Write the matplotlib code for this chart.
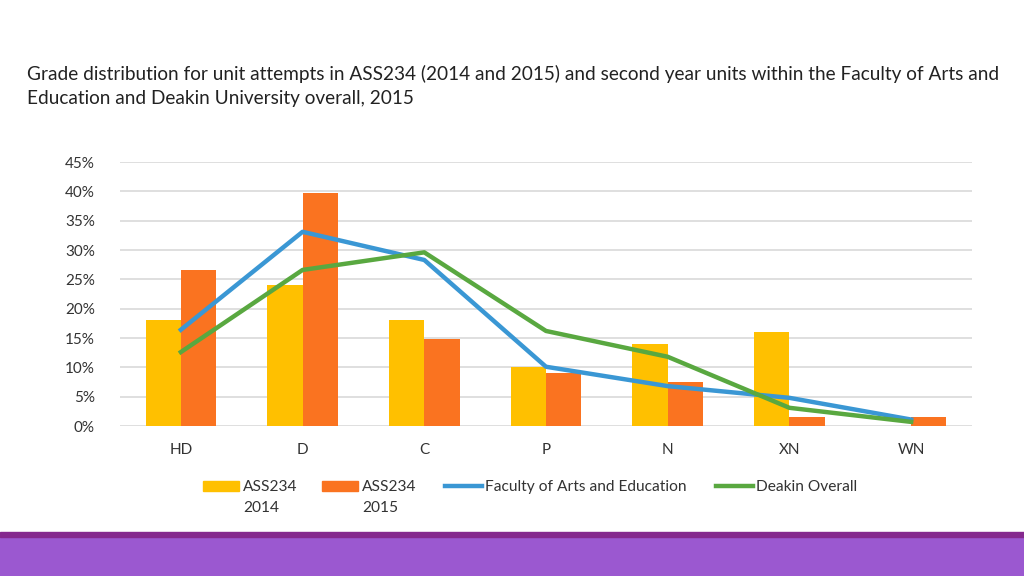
import matplotlib
matplotlib.use("Agg")
import matplotlib.pyplot as plt
from matplotlib.patches import Rectangle
from matplotlib.lines import Line2D
from matplotlib.ticker import PercentFormatter
import numpy as np

# grades and values (percent)
grades = ["HD", "D", "C", "P", "N", "XN", "WN"]
ass234_2014 = [18, 24, 18, 10, 14, 16, 0]
ass234_2015 = [26.6, 39.8, 14.8, 9.0, 7.5, 1.5, 1.5]
faculty = [16.4, 33.1, 28.3, 10.1, 6.8, 4.8, 1.1]
deakin = [12.6, 26.6, 29.6, 16.2, 11.8, 3.1, 0.7]
yticks = list(range(0, 50, 5))

title = ("Grade distribution for unit attempts in ASS234 (2014 and 2015) and second year units within the Faculty of Arts and\n"
         "Education and Deakin University overall, 2015")

plt.rcParams['font.family'] = ['Lato', 'DejaVu Sans']

W, H = 1024, 576
fig = plt.figure(figsize=(10.24, 5.76), dpi=100)
fig.patch.set_facecolor("white")

def fx(px):
    return px / W

def fy(py):
    return 1 - py / H

# purple footer band
fig.add_artist(Rectangle((0, 0), 1, 39 / H, transform=fig.transFigure, color="#9B58D0", zorder=0))
fig.add_artist(Rectangle((0, 39 / H), 1, 5 / H, transform=fig.transFigure, color="#85288E", zorder=0))

fig.text(fx(27), fy(86), title, fontsize=13.7, color="#222222", va="center", ha="left", linespacing=1.55)

ax = fig.add_axes([fx(120), fy(426), 852 / W, 264 / H])
x = np.arange(len(grades))
w = 0.29
c14, c15, cfac, cdk = "#FFC000", "#FA7320", "#3A97D4", "#59A840"
ax.bar(x - w / 2, ass234_2014, w, color=c14, zorder=2)
ax.bar(x + w / 2, ass234_2015, w, color=c15, zorder=2)
ax.plot(x, faculty, color=cfac, lw=3.2, zorder=3)
ax.plot(x, deakin, color=cdk, lw=3.2, zorder=3)

ax.set_xlim(-0.5, len(grades) - 0.5)
ax.set_ylim(0, 45)
ax.set_yticks(yticks)
ax.yaxis.set_major_formatter(PercentFormatter(decimals=0))
ax.set_xticks(x)
ax.set_xticklabels(grades)
ax.tick_params(length=0, labelsize=11, colors="#333333")
ax.tick_params(axis="x", pad=12)
ax.tick_params(axis="y", pad=18)
ax.grid(axis="y", color="#d9d9d9", lw=1.2, zorder=0)
for s in ax.spines.values():
    s.set_visible(False)

# legend, drawn by hand so two-line labels hang from the first line
legend_items = [("patch", c14, "ASS234\n2014", 203),
                ("patch", c15, "ASS234\n2015", 322),
                ("line", cfac, "Faculty of Arts and Education", 445),
                ("line", cdk, "Deakin Overall", 716)]
for kind, col, text, px in legend_items:
    if kind == "patch":
        fig.add_artist(Rectangle((fx(px), fy(491)), 36 / W, 10 / H, transform=fig.transFigure, color=col))
    else:
        fig.add_artist(Line2D([fx(px), fx(px + 37)], [fy(486), fy(486)], transform=fig.transFigure,
                              color=col, lw=3.2))
    fig.text(fx(px + 40), fy(480), text, fontsize=11.2, color="#333333", va="top", ha="left", linespacing=1.6)

fig.savefig("out.png", dpi=100)
